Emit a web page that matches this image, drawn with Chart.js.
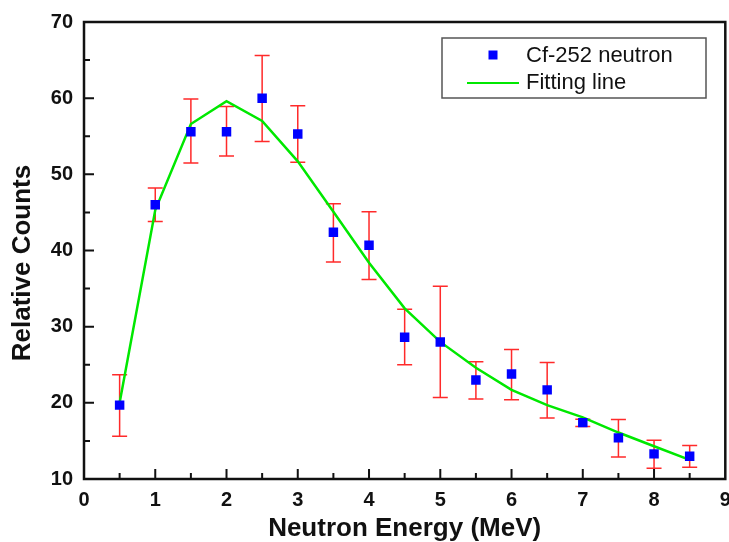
<!DOCTYPE html>
<html>
<head>
<meta charset="utf-8">
<script src="https://cdn.jsdelivr.net/npm/chart.js@4/dist/chart.umd.min.js"></script>
<style>
  html, body { margin: 0; padding: 0; background: #fff; overflow: hidden; }
  /* a touch wider than the window so the frame lands where the reference has it */
  #wrap { width: 732px; height: 542px; }
</style>
</head>
<body>
<div id="wrap"><canvas id="chart"></canvas></div>
<script>
// Measured data (Cf-252 neutron spectrum)
const energy = [0.5, 1, 1.5, 2, 2.5, 3, 3.5, 4, 4.5, 5, 5.5, 6, 6.5, 7, 7.5, 8, 8.5];
const counts = [19.7, 46.0, 55.6, 55.6, 60.0, 55.3, 42.4, 40.7, 28.6, 28.0, 23.0, 23.8, 21.7, 17.4, 15.4, 13.3, 13.0];
const errLow = [15.6, 43.8, 51.5, 52.4, 54.3, 51.6, 38.5, 36.2, 25.0, 20.7, 20.5, 20.4, 18.0, 16.9, 12.9, 11.4, 11.55];
const errHigh = [23.7, 48.2, 59.9, 58.9, 65.6, 59.0, 46.15, 45.1, 32.3, 35.3, 25.4, 27.0, 25.3, 17.85, 17.8, 15.1, 14.4];

// Fitting line
const fitEnergy = [0.5, 1, 1.5, 2, 2.5, 3, 3.5, 4, 4.5, 5, 5.5, 6, 6.5, 7, 7.5, 8, 8.5];
const fitCounts = [20.0, 45.3, 56.6, 59.6, 57.0, 51.7, 45.1, 38.4, 32.4, 28.0, 24.6, 21.7, 19.7, 18.1, 16.1, 14.3, 12.5];

// Axis ticks
const xMajor = [1, 2, 3, 4, 5, 6, 7, 8];
const xMinor = [0.5, 1.5, 2.5, 3.5, 4.5, 5.5, 6.5, 7.5, 8.5];
const yMajor = [20, 30, 40, 50, 60];
const yMinor = [15, 25, 35, 45, 55, 65];

const FONT = "'Liberation Sans', Arial, Helvetica, sans-serif";

// error bars under the markers
const errorBars = {
  id: 'errorBars',
  beforeDatasetsDraw(chart) {
    const { ctx, scales: { x, y } } = chart;
    ctx.save();
    ctx.strokeStyle = '#ff2a2a';
    ctx.lineWidth = 1.5;
    energy.forEach((e, i) => {
      const px = x.getPixelForValue(e);
      const top = y.getPixelForValue(errHigh[i]);
      const bot = y.getPixelForValue(errLow[i]);
      ctx.beginPath();
      ctx.moveTo(px, top); ctx.lineTo(px, bot);
      ctx.moveTo(px - 7.5, top); ctx.lineTo(px + 7.5, top);
      ctx.moveTo(px - 7.5, bot); ctx.lineTo(px + 7.5, bot);
      ctx.stroke();
    });
    ctx.restore();
  }
};

// frame, inward ticks, axis titles and boxed legend
const frame = {
  id: 'frame',
  afterDraw(chart) {
    const { ctx, chartArea: a, scales: { x, y } } = chart;
    ctx.save();
    ctx.strokeStyle = '#111';
    ctx.lineWidth = 2.5;
    ctx.strokeRect(a.left, a.top, a.right - a.left, a.bottom - a.top);

    ctx.lineWidth = 2;
    ctx.beginPath();
    xMajor.forEach(v => { const p = x.getPixelForValue(v); ctx.moveTo(p, a.bottom); ctx.lineTo(p, a.bottom - 10); });
    xMinor.forEach(v => { const p = x.getPixelForValue(v); ctx.moveTo(p, a.bottom); ctx.lineTo(p, a.bottom - 6); });
    yMajor.forEach(v => { const p = y.getPixelForValue(v); ctx.moveTo(a.left, p); ctx.lineTo(a.left + 10, p); });
    yMinor.forEach(v => { const p = y.getPixelForValue(v); ctx.moveTo(a.left, p); ctx.lineTo(a.left + 6, p); });
    ctx.stroke();

    // axis titles
    ctx.fillStyle = '#111';
    ctx.textAlign = 'center';
    ctx.textBaseline = 'middle';
    ctx.font = 'bold 26px ' + FONT;
    ctx.fillText('Neutron Energy (MeV)', (a.left + a.right) / 2, 529);
    ctx.save();
    ctx.translate(23, 263);
    ctx.rotate(-Math.PI / 2);
    ctx.font = 'bold 26px ' + FONT;
    ctx.fillText('Relative Counts', 0, 0);
    ctx.restore();

    // legend
    const ds = chart.data.datasets;
    ctx.lineWidth = 1.5;
    ctx.strokeStyle = '#555';
    ctx.strokeRect(442, 38, 264, 60);
    ctx.fillStyle = ds[0].backgroundColor;
    ctx.fillRect(488.5, 50.5, 9, 9);
    ctx.strokeStyle = ds[1].borderColor;
    ctx.lineWidth = 2;
    ctx.beginPath(); ctx.moveTo(467, 83); ctx.lineTo(519, 83); ctx.stroke();
    ctx.fillStyle = '#111';
    ctx.textAlign = 'left';
    ctx.font = '22px ' + FONT;
    ctx.fillText(ds[0].label, 526, 56);
    ctx.fillText(ds[1].label, 526, 83);
    ctx.restore();
  }
};

new Chart(document.getElementById('chart'), {
  type: 'scatter',
  data: {
    datasets: [
      {
        label: 'Cf-252 neutron',
        data: energy.map((e, i) => ({ x: e, y: counts[i] })),
        pointStyle: 'rect',
        pointRadius: 6.7,
        pointHoverRadius: 6.7,
        backgroundColor: '#0000ff',
        borderColor: '#0000ff',
        borderWidth: 0
      },
      {
        type: 'line',
        label: 'Fitting line',
        data: fitEnergy.map((e, i) => ({ x: e, y: fitCounts[i] })),
        borderColor: '#00e800',
        borderWidth: 2.5,
        pointRadius: 0,
        fill: false,
        tension: 0
      }
    ]
  },
  options: {
    responsive: true,
    maintainAspectRatio: false,
    animation: false,
    layout: { padding: { top: 22, right: 0, left: 0, bottom: 0 } },
    plugins: {
      legend: { display: false },
      tooltip: { enabled: false }
    },
    scales: {
      x: {
        type: 'linear',
        min: 0,
        max: 9,
        grid: { display: false, drawTicks: false },
        border: { display: false },
        ticks: {
          stepSize: 1,
          padding: 9,
          color: '#111',
          font: { family: FONT, size: 20, weight: 'bold' }
        },
        afterFit(scale) {
          scale.height = 63;
          scale.paddingLeft = 0;
          scale.paddingRight = 0;
        }
      },
      y: {
        min: 10,
        max: 70,
        grid: { display: false, drawTicks: false },
        border: { display: false },
        ticks: {
          stepSize: 10,
          padding: 11,
          color: '#111',
          font: { family: FONT, size: 20, weight: 'bold' }
        },
        afterFit(scale) {
          scale.width = 84;
          scale.paddingTop = 0;
          scale.paddingBottom = 0;
        }
      }
    }
  },
  plugins: [errorBars, frame]
});
</script>
</body>
</html>
